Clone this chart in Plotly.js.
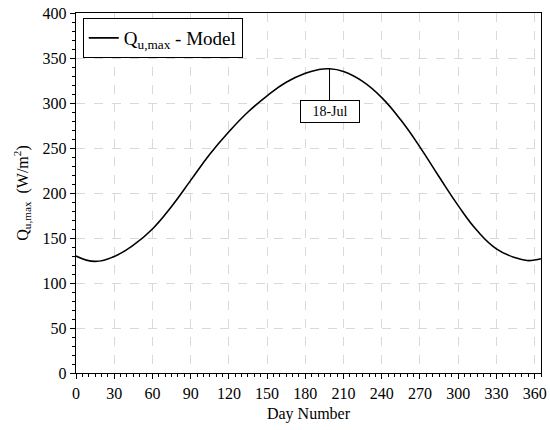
<!DOCTYPE html>
<html>
<head>
<meta charset="utf-8">
<script src="https://cdn.plot.ly/plotly-3.0.1.min.js"></script>
<style>html,body{margin:0;padding:0;background:#fff;}#chart{width:550px;height:430px;}</style>
</head>
<body>
<div id="chart"></div>
<script>
var days = [0, 15, 30, 45, 60, 75, 90, 105, 120, 135, 150, 165, 180, 190, 199, 210, 225, 240, 255, 270, 285, 300, 315, 330, 345, 354, 360, 365];
var qmax = [130, 124, 129.5, 142, 160, 185, 214, 243, 268, 290, 308, 323, 333, 337, 338, 335, 324, 306, 281, 251, 218, 186, 158, 138, 128, 125, 125.5, 127];
var seriesName = 'Q<sub>u,max</sub> - Model';
var peakDay = 199;
var peakValue = 338;
var peakLabel = '18-Jul';
var xTitle = 'Day Number';
var yTitle = 'Q<sub>u,max</sub>  (W/m<sup>2</sup>)';

var fontFam = '"Liberation Serif", "Times New Roman", serif';

var trace = {
  x: days, y: qmax, type: 'scatter', mode: 'lines',
  name: seriesName,
  line: {color: '#000', width: 1.6, shape: 'spline', smoothing: 1.3}
};

var axisCommon = {
  showline: true, linecolor: '#000', linewidth: 1.3, mirror: true,
  ticks: 'outside', ticklen: 5, tickwidth: 1, tickcolor: '#000',
  showgrid: true, gridcolor: '#d9d9d9', gridwidth: 1, griddash: 'dash',
  zeroline: false,
  tickfont: {family: fontFam, size: 16, color: '#000'}
};

var layout = {
  width: 550, height: 430,
  margin: {l: 76, r: 9, t: 13, b: 57},
  paper_bgcolor: '#fff', plot_bgcolor: '#fff',
  font: {family: fontFam, color: '#000'},
  showlegend: true,
  legend: {
    x: 0.0145, y: 0.986, xanchor: 'left', yanchor: 'top',
    bordercolor: '#000', borderwidth: 1, bgcolor: '#fff',
    font: {family: fontFam, size: 19, color: '#000'},
    itemwidth: 30, tracegroupgap: 0
  },
  xaxis: Object.assign({}, axisCommon, {
    range: [0, 365], tick0: 0, dtick: 30,
    minor: {dtick: 5, ticks: 'outside', ticklen: 3, tickcolor: '#000', showgrid: false},
    title: {text: xTitle, font: {family: fontFam, size: 16, color: '#000'}, standoff: 7}
  }),
  yaxis: Object.assign({}, axisCommon, {
    range: [0, 400], tick0: 0, dtick: 50,
    minor: {dtick: 10, ticks: 'outside', ticklen: 3, tickcolor: '#000', showgrid: false},
    title: {text: yTitle, font: {family: fontFam, size: 16, color: '#000'}, standoff: 10}
  }),
  annotations: [{
    x: peakDay, y: peakValue, xref: 'x', yref: 'y',
    text: peakLabel, showarrow: true, arrowhead: 0, arrowwidth: 1, arrowcolor: '#000',
    ax: 0, ay: 43,
    bordercolor: '#000', borderwidth: 1, borderpad: 3, bgcolor: '#fff',
    width: 52, height: 15,
    font: {family: fontFam, size: 14, color: '#000'}
  }]
};

Plotly.newPlot('chart', [trace], layout, {displayModeBar: false, staticPlot: true});
</script>
</body>
</html>
